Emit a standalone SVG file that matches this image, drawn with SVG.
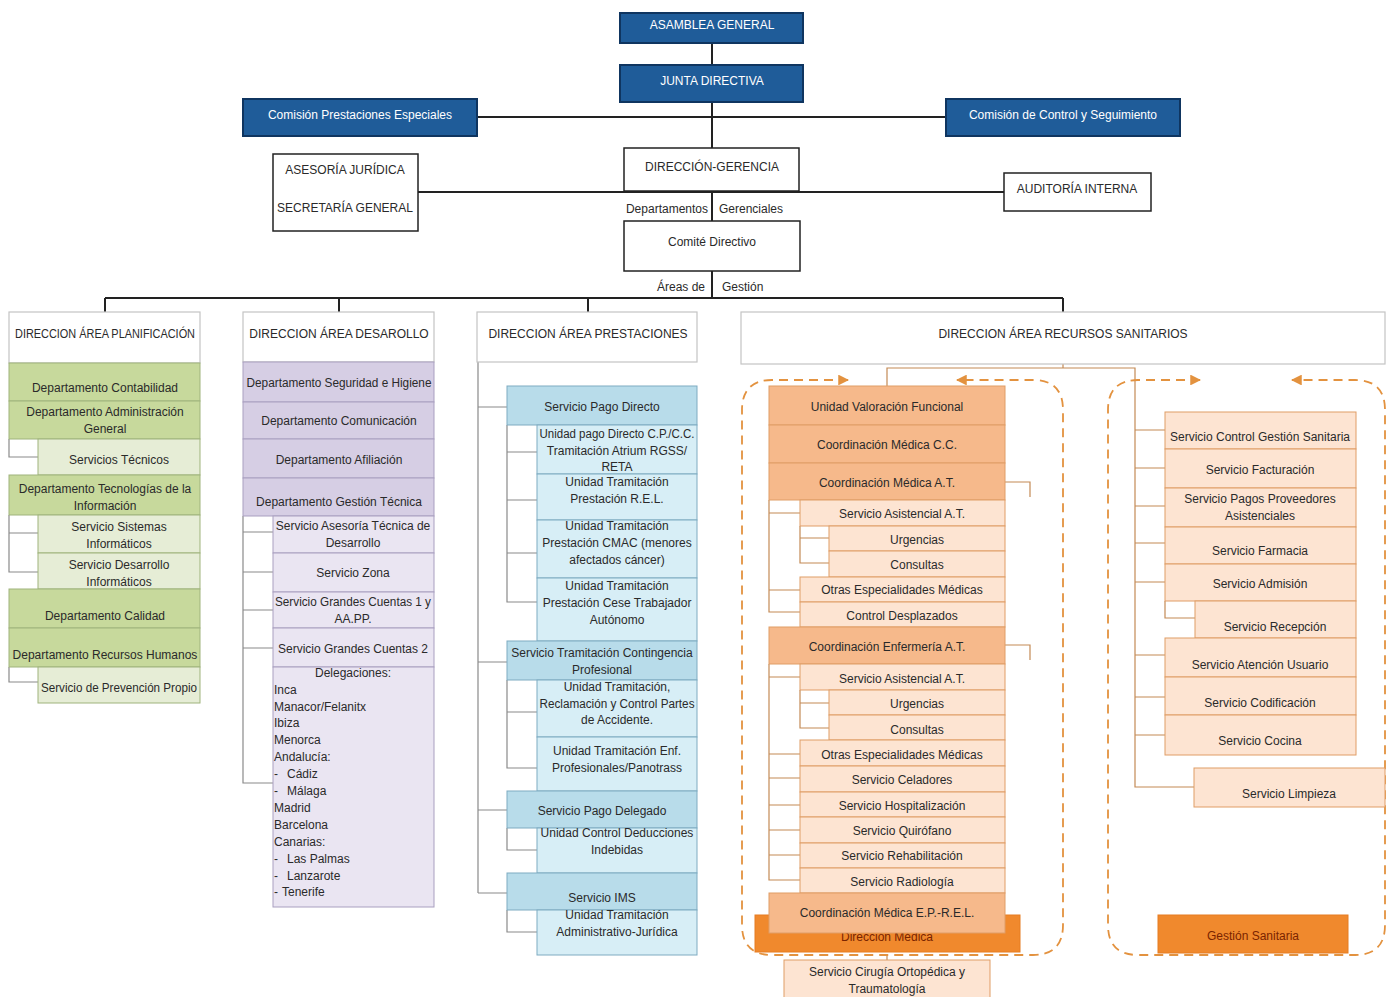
<svg xmlns="http://www.w3.org/2000/svg" width="1394" height="997" viewBox="0 0 1394 997">
<style>
.t{font-family:"Liberation Sans",Arial,sans-serif;font-size:12px;fill:#2a2a2a;text-anchor:middle}
.tl{text-anchor:start}
.tw{fill:#fff}
.tr{fill:#7a2400}
.hd{fill:#fff;stroke:#c4c4c4;stroke-width:1.2}
.blue{fill:#1f5c99;stroke:#0f3560;stroke-width:2}
.bx{fill:#fff;stroke:#222;stroke-width:1.5}
.gd{fill:#c7d99c;stroke:#9fb37c;stroke-width:1}
.gs{fill:#e6edd6;stroke:#9fb37c;stroke-width:1}
.pd{fill:#d6cee4;stroke:#a99fc0;stroke-width:1}
.ps{fill:#eae5f2;stroke:#a99fc0;stroke-width:1}
.bs{fill:#b8dcea;stroke:#7eabc1;stroke-width:1}
.bu{fill:#d7eef6;stroke:#7eabc1;stroke-width:1}
.od{fill:#f6b98b;stroke:#e09d66;stroke-width:1}
.os{fill:#fde4d2;stroke:#e09d66;stroke-width:1}
.ok{fill:#f0892d;stroke:#e67d22;stroke-width:1}
.conn{fill:none;stroke:#222;stroke-width:2}
.cg{fill:none;stroke:#8a8a8a;stroke-width:1.2}
.co{fill:none;stroke:#c48a55;stroke-width:1.2}
.dash{fill:none;stroke:#e3923f;stroke-width:1.8;stroke-dasharray:9 6}
</style>
<defs>
<marker id="ah" viewBox="0 0 10 10" refX="9" refY="5" markerWidth="6" markerHeight="6" orient="auto-start-reverse" markerUnits="strokeWidth">
<path d="M0,0 L10,5 L0,10 z" fill="#e3923f"/>
</marker>
</defs>

<g id="connectors">
<path class="conn" d="M712,43 V65 M712,102 V148 M477,117 H946 M273,192 H1004 M712,191 V221 M712,271 V298 M105,298 H1063 M105,298 V312 M339,298 V312 M588,298 V312 M1063,298 V312"/>
<path class="cg" d="M9,439 V457 H38 M9,515 V572 H38 M9,533 H38 M9,667 V682 H38"/>
<path class="cg" d="M243,516 V783 H273 M243,532 H273 M243,572 H273 M243,610 H273 M243,648 H273"/>
<path class="cg" d="M478,362 V893 M478,407 H507 M478,662 H507 M478,810 H507 M478,893 H507"/>
<path class="cg" d="M507,425 V602 H537 M507,452 H537 M507,500 H537 M507,553 H537 M507,680 V768 H537 M507,712 H537 M507,828 V850 H537 M507,910 V932 H537"/>
<path class="co" d="M1063,364 V368 M887,386 V368 H1135 V787 H1194 M1135,430 H1165 M1135,468 H1165 M1135,506 H1165 M1135,543 H1165 M1135,582 H1165 M1135,655 H1165 M1135,697 H1165 M1135,735 H1165 M1165,601 V618 H1195"/>
<path class="co" d="M769,500 V612 H800 M769,513 H800 M769,590 H800 M800,526 V563 H829 M800,538 H829"/>
<path class="co" d="M769,664 V880 H800 M769,677 H800 M769,754 H800 M769,778 H800 M769,805 H800 M769,830 H800 M769,855 H800 M800,690 V728 H829 M800,703 H829"/>
<path class="co" d="M1005,482 H1030 V497 M1005,645 H1030 V660 M887,955 V960"/>
<path class="dash" marker-start="url(#ah)" marker-end="url(#ah)" d="M848,380 H772 Q742,380 742,410 V925 Q742,955 772,955 H1033 Q1063,955 1063,925 V410 Q1063,380 1033,380 H957"/>
<path class="dash" marker-start="url(#ah)" marker-end="url(#ah)" d="M1200,380 H1138 Q1108,380 1108,410 V925 Q1108,955 1138,955 H1355 Q1385,955 1385,925 V410 Q1385,380 1355,380 H1292"/>
</g>

<g id="asamblea"><rect class="blue" x="620" y="13" width="183" height="30"/><text class="t tw" x="712" y="29">ASAMBLEA GENERAL</text></g>
<g id="junta"><rect class="blue" x="620" y="65" width="183" height="37"/><text class="t tw" x="712" y="85">JUNTA DIRECTIVA</text></g>
<g id="comision-prest"><rect class="blue" x="243" y="99" width="234" height="37"/><text class="t tw" x="360" y="119">Comisión Prestaciones Especiales</text></g>
<g id="comision-control"><rect class="blue" x="946" y="99" width="234" height="37"/><text class="t tw" x="1063" y="119">Comisión de Control y Seguimiento</text></g>
<g id="direccion-gerencia"><rect class="bx" x="624" y="148" width="175" height="43"/><text class="t" x="712" y="171">DIRECCIÓN-GERENCIA</text></g>
<g id="asesoria"><rect class="bx" x="273" y="154" width="145" height="77"/><text class="t" x="345" y="174">ASESORÍA JURÍDICA</text><text class="t" x="345" y="212">SECRETARÍA GENERAL</text></g>
<g id="auditoria"><rect class="bx" x="1004" y="173" width="147" height="38"/><text class="t" x="1077" y="193">AUDITORÍA INTERNA</text></g>
<g id="dept-gerenciales"><text class="t" x="708" y="213" style="text-anchor:end">Departamentos</text><text class="t tl" x="719" y="213">Gerenciales</text></g>
<g id="comite"><rect class="bx" x="624" y="221" width="176" height="50"/><text class="t" x="712" y="246">Comité Directivo</text></g>
<g id="areas-gestion"><text class="t" x="705" y="291" style="text-anchor:end">Áreas de</text><text class="t tl" x="722" y="291">Gestión</text></g>

<!-- Column 1 -->
<g id="c1-header"><rect class="hd" x="9" y="312" width="191" height="51"/><text class="t" x="105" y="338" textLength="180" lengthAdjust="spacingAndGlyphs">DIRECCION ÁREA PLANIFICACIÓN</text></g>
<g id="c1-contabilidad"><rect class="gd" x="9" y="363" width="191" height="38"/><text class="t" x="105" y="392">Departamento Contabilidad</text></g>
<g id="c1-admin"><rect class="gd" x="9" y="401" width="191" height="38"/><text class="t" x="105" y="416">Departamento Administración</text><text class="t" x="105" y="433">General</text></g>
<g id="c1-tecnicos"><rect class="gs" x="38" y="439" width="162" height="36"/><text class="t" x="119" y="464">Servicios Técnicos</text></g>
<g id="c1-tecnologias"><rect class="gd" x="9" y="475" width="191" height="40"/><text class="t" x="105" y="493">Departamento Tecnologías de la</text><text class="t" x="105" y="510">Información</text></g>
<g id="c1-sistemas"><rect class="gs" x="38" y="515" width="162" height="38"/><text class="t" x="119" y="531">Servicio Sistemas</text><text class="t" x="119" y="548">Informáticos</text></g>
<g id="c1-desarrollo"><rect class="gs" x="38" y="553" width="162" height="36"/><text class="t" x="119" y="569">Servicio Desarrollo</text><text class="t" x="119" y="586">Informáticos</text></g>
<g id="c1-calidad"><rect class="gd" x="9" y="589" width="191" height="39"/><text class="t" x="105" y="620">Departamento Calidad</text></g>
<g id="c1-rrhh"><rect class="gd" x="9" y="628" width="191" height="39"/><text class="t" x="105" y="659">Departamento Recursos Humanos</text></g>
<g id="c1-prevencion"><rect class="gs" x="38" y="667" width="162" height="36"/><text class="t" x="119" y="692" textLength="156" lengthAdjust="spacingAndGlyphs">Servicio de Prevención Propio</text></g>

<!-- Column 2 -->
<g id="c2-header"><rect class="hd" x="243" y="312" width="191" height="50"/><text class="t" x="339" y="338">DIRECCION ÁREA DESAROLLO</text></g>
<g id="c2-seguridad"><rect class="pd" x="243" y="362" width="191" height="40"/><text class="t" x="339" y="387" textLength="185" lengthAdjust="spacingAndGlyphs">Departamento Seguridad e Higiene</text></g>
<g id="c2-comunicacion"><rect class="pd" x="243" y="402" width="191" height="37"/><text class="t" x="339" y="425">Departamento Comunicación</text></g>
<g id="c2-afiliacion"><rect class="pd" x="243" y="439" width="191" height="39"/><text class="t" x="339" y="464">Departamento Afiliación</text></g>
<g id="c2-gestion"><rect class="pd" x="243" y="478" width="191" height="38"/><text class="t" x="339" y="506">Departamento Gestión Técnica</text></g>
<g id="c2-asesoria"><rect class="ps" x="273" y="516" width="161" height="37"/><text class="t" x="353" y="530">Servicio Asesoría Técnica de</text><text class="t" x="353" y="547">Desarrollo</text></g>
<g id="c2-zona"><rect class="ps" x="273" y="553" width="161" height="39"/><text class="t" x="353" y="577">Servicio Zona</text></g>
<g id="c2-gc1"><rect class="ps" x="273" y="592" width="161" height="36"/><text class="t" x="353" y="606" textLength="156" lengthAdjust="spacingAndGlyphs">Servicio Grandes Cuentas 1 y</text><text class="t" x="353" y="623">AA.PP.</text></g>
<g id="c2-gc2"><rect class="ps" x="273" y="628" width="161" height="39"/><text class="t" x="353" y="653">Servicio Grandes Cuentas 2</text></g>
<g id="c2-delegaciones"><rect class="ps" x="273" y="667" width="161" height="240"/>
<text class="t" x="353" y="677">Delegaciones:</text>
<text class="t tl" x="274" y="694">Inca</text>
<text class="t tl" x="274" y="711">Manacor/Felanitx</text>
<text class="t tl" x="274" y="727">Ibiza</text>
<text class="t tl" x="274" y="744">Menorca</text>
<text class="t tl" x="274" y="761">Andalucía:</text>
<text class="t tl" x="274" y="778">-<tspan x="287">Cádiz</tspan></text>
<text class="t tl" x="274" y="795">-<tspan x="287">Málaga</tspan></text>
<text class="t tl" x="274" y="812">Madrid</text>
<text class="t tl" x="274" y="829">Barcelona</text>
<text class="t tl" x="274" y="846">Canarias:</text>
<text class="t tl" x="274" y="863">-<tspan x="287">Las Palmas</tspan></text>
<text class="t tl" x="274" y="880">-<tspan x="287">Lanzarote</tspan></text>
<text class="t tl" x="274" y="896">-<tspan x="282">Tenerife</tspan></text>
</g>

<!-- Column 3 -->
<g id="c3-header"><rect class="hd" x="477" y="312" width="220" height="50"/><text class="t" x="588" y="338">DIRECCION ÁREA PRESTACIONES</text></g>
<g id="c3-pago-directo"><rect class="bs" x="507" y="386" width="190" height="39"/><text class="t" x="602" y="411">Servicio Pago Directo</text></g>
<g id="c3-u1"><rect class="bu" x="537" y="425" width="160" height="49"/><text class="t" x="617" y="438" textLength="155" lengthAdjust="spacingAndGlyphs">Unidad pago Directo C.P./C.C.</text><text class="t" x="617" y="455">Tramitación Atrium RGSS/</text><text class="t" x="617" y="471">RETA</text></g>
<g id="c3-u2"><rect class="bu" x="537" y="474" width="160" height="46"/><text class="t" x="617" y="486">Unidad Tramitación</text><text class="t" x="617" y="503">Prestación R.E.L.</text></g>
<g id="c3-u3"><rect class="bu" x="537" y="520" width="160" height="58"/><text class="t" x="617" y="530">Unidad Tramitación</text><text class="t" x="617" y="547">Prestación CMAC (menores</text><text class="t" x="617" y="564">afectados cáncer)</text></g>
<g id="c3-u4"><rect class="bu" x="537" y="578" width="160" height="63"/><text class="t" x="617" y="590">Unidad Tramitación</text><text class="t" x="617" y="607">Prestación Cese Trabajador</text><text class="t" x="617" y="624">Autónomo</text></g>
<g id="c3-contingencia"><rect class="bs" x="507" y="641" width="190" height="39"/><text class="t" x="602" y="657">Servicio Tramitación Contingencia</text><text class="t" x="602" y="674">Profesional</text></g>
<g id="c3-u5"><rect class="bu" x="537" y="680" width="160" height="57"/><text class="t" x="617" y="691">Unidad Tramitación,</text><text class="t" x="617" y="708" textLength="155" lengthAdjust="spacingAndGlyphs">Reclamación y Control Partes</text><text class="t" x="617" y="724">de Accidente.</text></g>
<g id="c3-u6"><rect class="bu" x="537" y="737" width="160" height="54"/><text class="t" x="617" y="755">Unidad Tramitación Enf.</text><text class="t" x="617" y="772">Profesionales/Panotrass</text></g>
<g id="c3-pago-delegado"><rect class="bs" x="507" y="791" width="190" height="37"/><text class="t" x="602" y="815">Servicio Pago Delegado</text></g>
<g id="c3-u7"><rect class="bu" x="537" y="828" width="160" height="45"/><text class="t" x="617" y="837">Unidad Control Deducciones</text><text class="t" x="617" y="854">Indebidas</text></g>
<g id="c3-ims"><rect class="bs" x="507" y="873" width="190" height="37"/><text class="t" x="602" y="902">Servicio IMS</text></g>
<g id="c3-u8"><rect class="bu" x="537" y="910" width="160" height="45"/><text class="t" x="617" y="919">Unidad Tramitación</text><text class="t" x="617" y="936">Administrativo-Jurídica</text></g>

<!-- Column 4 -->
<g id="c4-header"><rect class="hd" x="741" y="312" width="644" height="52"/><text class="t" x="1063" y="338">DIRECCION ÁREA RECURSOS SANITARIOS</text></g>
<g id="c4-direccion-medica"><rect class="ok" x="755" y="915" width="265" height="37"/><text class="t tr" x="887" y="941">Dirección Médica</text></g>
<g id="c4-valoracion"><rect class="od" x="769" y="386" width="236" height="39"/><text class="t" x="887" y="411">Unidad Valoración Funcional</text></g>
<g id="c4-coord-cc"><rect class="od" x="769" y="425" width="236" height="38"/><text class="t" x="887" y="449">Coordinación Médica C.C.</text></g>
<g id="c4-coord-at"><rect class="od" x="769" y="463" width="236" height="37"/><text class="t" x="887" y="487">Coordinación Médica A.T.</text></g>
<g id="c4-asist1"><rect class="os" x="800" y="500" width="205" height="26"/><text class="t" x="902" y="518">Servicio Asistencial A.T.</text></g>
<g id="c4-urg1"><rect class="os" x="829" y="526" width="176" height="25"/><text class="t" x="917" y="544">Urgencias</text></g>
<g id="c4-cons1"><rect class="os" x="829" y="551" width="176" height="26"/><text class="t" x="917" y="569">Consultas</text></g>
<g id="c4-otras1"><rect class="os" x="800" y="577" width="205" height="25"/><text class="t" x="902" y="594">Otras Especialidades Médicas</text></g>
<g id="c4-desplazados"><rect class="os" x="800" y="602" width="205" height="25"/><text class="t" x="902" y="620">Control Desplazados</text></g>
<g id="c4-coord-enf"><rect class="od" x="769" y="627" width="236" height="37"/><text class="t" x="887" y="651">Coordinación Enfermería A.T.</text></g>
<g id="c4-asist2"><rect class="os" x="800" y="664" width="205" height="26"/><text class="t" x="902" y="683">Servicio Asistencial A.T.</text></g>
<g id="c4-urg2"><rect class="os" x="829" y="690" width="176" height="25"/><text class="t" x="917" y="708">Urgencias</text></g>
<g id="c4-cons2"><rect class="os" x="829" y="715" width="176" height="25"/><text class="t" x="917" y="734">Consultas</text></g>
<g id="c4-otras2"><rect class="os" x="800" y="740" width="205" height="26"/><text class="t" x="902" y="759">Otras Especialidades Médicas</text></g>
<g id="c4-celadores"><rect class="os" x="800" y="766" width="205" height="26"/><text class="t" x="902" y="784">Servicio Celadores</text></g>
<g id="c4-hosp"><rect class="os" x="800" y="792" width="205" height="25"/><text class="t" x="902" y="810">Servicio Hospitalización</text></g>
<g id="c4-quirofano"><rect class="os" x="800" y="817" width="205" height="26"/><text class="t" x="902" y="835">Servicio Quirófano</text></g>
<g id="c4-rehab"><rect class="os" x="800" y="843" width="205" height="25"/><text class="t" x="902" y="860">Servicio Rehabilitación</text></g>
<g id="c4-radio"><rect class="os" x="800" y="868" width="205" height="25"/><text class="t" x="902" y="886">Servicio Radiología</text></g>
<g id="c4-coord-ep"><rect class="od" x="769" y="893" width="236" height="40"/><text class="t" x="887" y="917">Coordinación Médica E.P.-R.E.L.</text></g>
<g id="c4-cirugia"><rect class="os" x="784" y="960" width="206" height="42"/><text class="t" x="887" y="976">Servicio Cirugía Ortopédica y</text><text class="t" x="887" y="993">Traumatología</text></g>

<g id="c4-control-gestion"><rect class="os" x="1165" y="412" width="191" height="37"/><text class="t" x="1260" y="441">Servicio Control Gestión Sanitaria</text></g>
<g id="c4-facturacion"><rect class="os" x="1165" y="449" width="191" height="39"/><text class="t" x="1260" y="474">Servicio Facturación</text></g>
<g id="c4-pagos"><rect class="os" x="1165" y="488" width="191" height="39"/><text class="t" x="1260" y="503">Servicio Pagos Proveedores</text><text class="t" x="1260" y="520">Asistenciales</text></g>
<g id="c4-farmacia"><rect class="os" x="1165" y="527" width="191" height="37"/><text class="t" x="1260" y="555">Servicio Farmacia</text></g>
<g id="c4-admision"><rect class="os" x="1165" y="564" width="191" height="37"/><text class="t" x="1260" y="588">Servicio Admisión</text></g>
<g id="c4-recepcion"><rect class="os" x="1195" y="601" width="161" height="37"/><text class="t" x="1275" y="631">Servicio Recepción</text></g>
<g id="c4-atencion"><rect class="os" x="1165" y="638" width="191" height="39"/><text class="t" x="1260" y="669">Servicio Atención Usuario</text></g>
<g id="c4-codificacion"><rect class="os" x="1165" y="677" width="191" height="38"/><text class="t" x="1260" y="707">Servicio Codificación</text></g>
<g id="c4-cocina"><rect class="os" x="1165" y="715" width="191" height="40"/><text class="t" x="1260" y="745">Servicio Cocina</text></g>
<g id="c4-limpieza"><rect class="os" x="1194" y="768" width="191" height="39"/><text class="t" x="1289" y="798">Servicio Limpieza</text></g>
<g id="c4-gestion-sanitaria"><rect class="ok" x="1158" y="915" width="190" height="38"/><text class="t tr" x="1253" y="940">Gestión Sanitaria</text></g>
</svg>
